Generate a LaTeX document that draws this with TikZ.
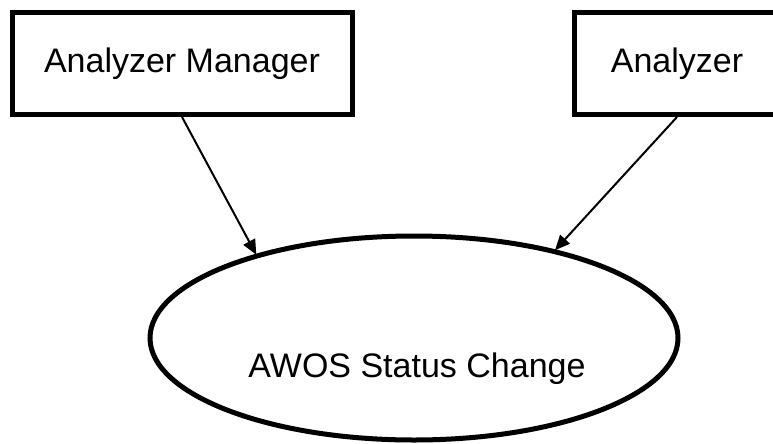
\documentclass[tikz,border=0pt]{standalone}
\usepackage{fontspec}
\setmainfont{Liberation Sans}
\usetikzlibrary{shapes.geometric,arrows.meta}
\tikzset{
  boxnode/.style={draw=black, line width=5pt, rectangle, inner sep=0pt, font=\fontsize{34}{40}\selectfont},
  ellnode/.style={draw=black, line width=5pt, ellipse, inner sep=0pt},
  lbl/.style={font=\fontsize{34}{40}\selectfont, inner sep=0pt},
  conn/.style={line width=2pt, -{Triangle[length=15pt,width=13pt]}, shorten >=-1pt}
}
\begin{document}
\begin{tikzpicture}[x=1pt,y=1pt]
\useasboundingbox (0,0) rectangle (773,-444);
\node[boxnode, minimum width=340pt, minimum height=102pt] (mgr) at (182,-63.5) {Analyzer Manager};
\node[boxnode, minimum width=206pt, minimum height=102pt] (ana) at (677,-63.5) {Analyzer};
\node[ellnode, minimum width=528pt, minimum height=204pt] (ell) at (414,-338) {};
\node[lbl, anchor=base] (txt) at (417,-377) {AWOS Status Change};
\draw[conn] (mgr.south) -- (ell.152.2);
\draw[conn] (ana.south) -- (ell.32.2);
\end{tikzpicture}
\end{document}
